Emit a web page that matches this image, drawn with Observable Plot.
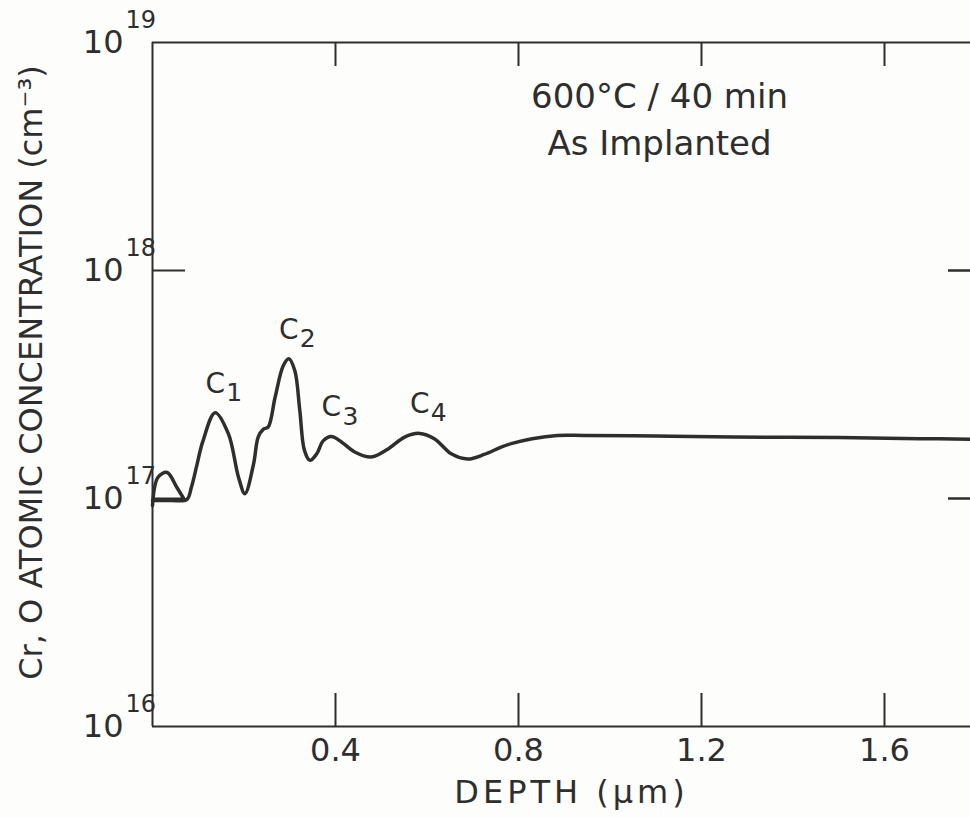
<!DOCTYPE html>
<html>
<head>
<meta charset="utf-8">
<script src="https://cdn.jsdelivr.net/npm/d3@7"></script>
<script src="https://cdn.jsdelivr.net/npm/@observablehq/plot@0.6"></script>
<style>
  html, body { margin: 0; padding: 0; background: #fdfdfb; }
  #chart { width: 970px; height: 818px; overflow: hidden; }
</style>
</head>
<body>
<div id="chart"></div>
<script>
// ---- data ----
// main profile (Cr)
const crDepth = [0.000, 0.040, 0.075, 0.085, 0.097, 0.110, 0.137, 0.166, 0.188, 0.202, 0.221, 0.231, 0.242, 0.253, 0.268, 0.286, 0.298, 0.311, 0.322, 0.332, 0.344, 0.359, 0.373, 0.391, 0.413, 0.442, 0.478, 0.515, 0.551, 0.584, 0.616, 0.653, 0.689, 0.725, 0.762, 0.784, 0.830, 0.885, 0.943, 1.100, 1.270, 1.500, 1.677, 1.788];
const crConc  = [9.8e16, 9.8e16, 9.9e16, 1.12e17, 1.40e17, 1.78e17, 2.38e17, 1.92e17, 1.24e17, 1.05e17, 1.42e17, 1.86e17, 2.01e17, 2.06e17, 2.78e17, 3.83e17, 4.10e17, 3.64e17, 2.43e17, 1.63e17, 1.47e17, 1.57e17, 1.79e17, 1.87e17, 1.77e17, 1.60e17, 1.52e17, 1.65e17, 1.86e17, 1.93e17, 1.83e17, 1.57e17, 1.49e17, 1.56e17, 1.68e17, 1.74e17, 1.83e17, 1.89e17, 1.89e17, 1.88e17, 1.86e17, 1.85e17, 1.83e17, 1.82e17];
// near-surface hump (O)
const oDepth = [0.000, 0.012, 0.032, 0.053, 0.068];
const oConc  = [9.3e16, 1.24e17, 1.30e17, 1.12e17, 1.0e17];
// labelled peaks
const peakLetter = ["C", "C", "C", "C"];
const peakIndex  = ["1", "2", "3", "4"];
const peakDepth  = [0.137, 0.298, 0.391, 0.584];
const peakConc   = [2.38e17, 4.10e17, 1.87e17, 1.93e17];
// axes
const xTicks = [0.4, 0.8, 1.2, 1.6];
const xTickLabels = ["0.4", "0.8", "1.2", "1.6"];
const yDecades = [1e16, 1e17, 1e18, 1e19];
const yExponents = ["16", "17", "18", "19"];
const yInnerTicks = [1e17, 1e18];
const xTitle = ["DEPTH (\u00b5m)"];
const yTitle = ["Cr, O ATOMIC CONCENTRATION (cm\u207b\u00b3)"];
const annotation = ["600\u00b0C / 40 min\nAs Implanted"];

// ---- layout ----
const W = 970, H = 818, ML = 152, MR = 0, MT = 42, MB = 92;
const innerW = W - ML - MR, innerH = H - MT - MB;
const ink = "#2e2e2e";
const font = "DejaVu Sans, sans-serif";

const cr = crDepth.map((d, i) => ({depth: d, conc: crConc[i]}));
const ox = oDepth.map((d, i) => ({depth: d, conc: oConc[i]}));
const peaks = peakDepth.map((d, i) => ({depth: d, conc: peakConc[i], letter: peakLetter[i], sub: peakIndex[i]}));

const chart = Plot.plot({
  width: W, height: H,
  marginLeft: ML, marginRight: MR, marginTop: MT, marginBottom: MB,
  style: {background: "transparent", fontFamily: font, color: ink, overflow: "visible"},
  x: {domain: [0, 1.788], axis: null},
  y: {type: "log", domain: [1e16, 1e19], axis: null},
  marks: [
    // frame (left, top, bottom)
    Plot.ruleX([0], {stroke: ink, strokeWidth: 2}),
    Plot.ruleY([1e16, 1e19], {stroke: ink, strokeWidth: 2}),
    // inward ticks
    Plot.tickX(xTicks, {x: d => d, stroke: ink, strokeWidth: 2, insetTop: innerH - 33}),
    Plot.tickX(xTicks, {x: d => d, stroke: ink, strokeWidth: 2, insetBottom: innerH - 24}),
    Plot.tickY(yInnerTicks, {y: d => d, stroke: ink, strokeWidth: 2, insetRight: innerW - 33}),
    Plot.tickY(yInnerTicks, {y: d => d, stroke: ink, strokeWidth: 2.5, insetLeft: innerW - 22}),
    // x tick labels
    Plot.text(xTicks, {x: d => d, frameAnchor: "bottom", text: (d, i) => xTickLabels[i],
      textAnchor: "middle", lineAnchor: "top", dy: 12, fontSize: 32, fill: ink}),
    // y tick labels: 10 with exponent
    Plot.text(yDecades, {y: d => d, frameAnchor: "left", text: () => "10",
      textAnchor: "end", lineAnchor: "middle", dx: -29, fontSize: 32, fill: ink}),
    Plot.text(yDecades, {y: d => d, frameAnchor: "left", text: (d, i) => yExponents[i],
      textAnchor: "start", lineAnchor: "middle", dx: -27, dy: -22, fontSize: 24, fill: ink}),
    // titles
    Plot.text(xTitle, {frameAnchor: "bottom", text: d => d, textAnchor: "middle", lineAnchor: "middle",
      dx: 10, dy: 66, fontSize: 32, fill: ink}),
    Plot.text(yTitle, {frameAnchor: "left", text: d => d, rotate: -90, textAnchor: "middle", lineAnchor: "middle",
      dx: -121, dy: -12, fontSize: 32, fill: ink}),
    // annotation
    Plot.text(annotation, {frameAnchor: "top", text: d => d, textAnchor: "middle", lineAnchor: "middle",
      dx: 98, dy: 74, lineHeight: 1.37, fontSize: 34, fill: ink}),
    // curves
    Plot.line(ox, {x: "depth", y: "conc", curve: "catmull-rom", stroke: ink, strokeWidth: 3.5}),
    Plot.line(cr, {x: "depth", y: "conc", curve: "catmull-rom", stroke: ink, strokeWidth: 3.5}),
    // peak labels
    Plot.text(peaks, {x: "depth", y: "conc", text: "letter", textAnchor: "middle",
      lineAnchor: "middle", dy: -29, fontSize: 28, fill: ink}),
    Plot.text(peaks, {x: "depth", y: "conc", text: "sub", textAnchor: "start",
      lineAnchor: "middle", dx: 11, dy: -20, fontSize: 25, fill: ink})
  ]
});

d3.select(chart).selectAll("text")
  .filter(function () { return this.textContent === xTitle[0]; })
  .attr("letter-spacing", "4px");
document.getElementById("chart").appendChild(chart);
</script>
</body>
</html>
